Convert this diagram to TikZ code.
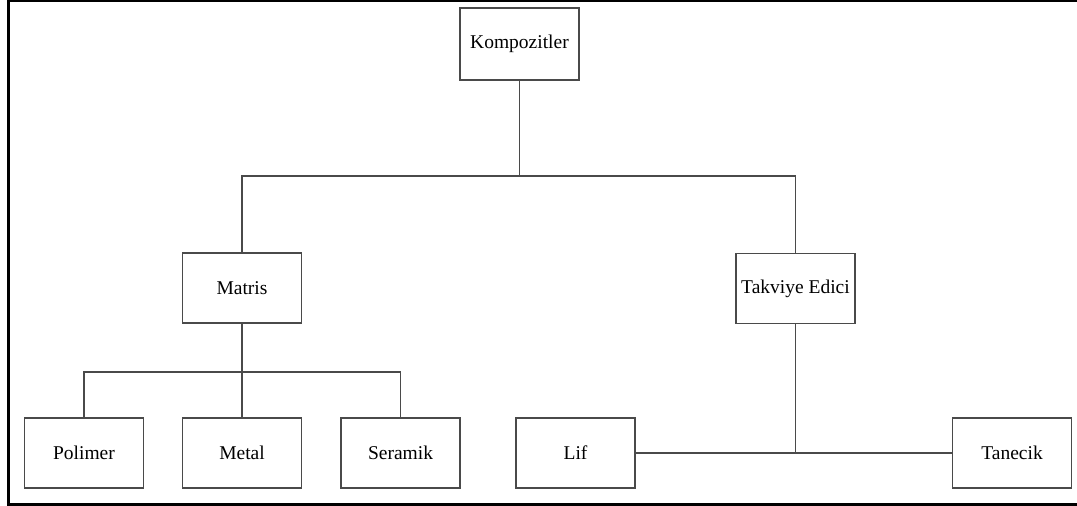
\documentclass[tikz,border=0pt]{standalone}
\usepackage{fontspec}
\setmainfont{Liberation Serif}
\usepackage{xcolor}
\definecolor{boxline}{HTML}{4A4A4A}
\usepackage{tikz}
\usetikzlibrary{positioning,calc}
\tikzset{
  kutu/.style={draw=boxline, line width=0.85pt, align=center,
               font=\fontsize{11.1}{13}\selectfont,
               minimum width=2.38cm, minimum height=1.4cm, inner sep=2pt},
  bag/.style={draw=boxline, line width=0.85pt},
  cerceve/.style={draw=black, line width=1.2pt},
}

\begin{document}
\begin{tikzpicture}[x=0.02cm, y=-0.02cm]
  \useasboundingbox (0,0) rectangle (1077,506);
  \draw[cerceve] (1077,0.8) -| (8.5,504.5) -- (1077,504.5);

  % ust seviye
  \node[kutu, minimum height=1.44cm] (komp) at (519.5,44) {Kompozitler};

  % ikinci seviye
  \node[kutu] (matris) at (242,288) {Matris};
  \node[kutu] (takviye) at (795.5,288.5) {Takviye Edici};

  % alt seviye
  \node[kutu] (polimer) at (84,453) {Polimer};
  \node[kutu] (metal) at (242,453) {Metal};
  \node[kutu] (seramik) at (400.5,453) {Seramik};
  \node[kutu] (lif) at (575.5,453) {Lif};
  \node[kutu] (tanecik) at (1012,453) {Tanecik};

  \coordinate (j1) at (519.5,176);
  \coordinate (j2) at (242,372);

  \draw[bag] (komp) -- (j1);
  \draw[bag] (matris.north) |- (j1) -| (takviye.north);
  \draw[bag] (matris) -- (metal);
  \draw[bag] (polimer.north) |- (j2) -| (seramik.north);
  \draw[bag] (lif) -- (tanecik);
  \draw[bag] (takviye) -- (takviye |- lif);
\end{tikzpicture}
\end{document}
